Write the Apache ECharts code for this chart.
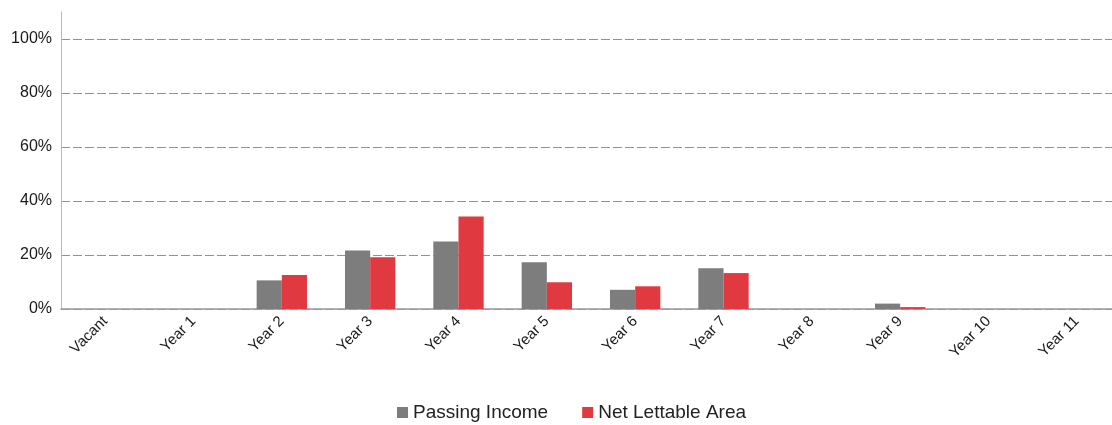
<!DOCTYPE html>
<html>
<head>
<meta charset="utf-8">
<title>Lease Expiry Profile</title>
<script src="https://cdn.jsdelivr.net/npm/echarts@6/dist/echarts.min.js"></script>
<style>
  html, body { margin: 0; padding: 0; background: #ffffff; }
  #chart { width: 1112px; height: 425px; }
</style>
</head>
<body>
<div id="chart"></div>
<script>
// Expiry buckets
const categories = ['Vacant', 'Year 1', 'Year 2', 'Year 3', 'Year 4', 'Year 5',
                    'Year 6', 'Year 7', 'Year 8', 'Year 9', 'Year 10', 'Year 11'];

// Share of total (%) expiring in each bucket
const passingIncome    = [0, 0, 10.6, 21.7, 25.0, 17.3, 7.1, 15.1, 0, 2.0, 0, 0];
const netLettableArea  = [0, 0, 12.6, 19.2, 34.3, 9.9, 8.4, 13.3, 0, 0.7, 0, 0];

// Value-axis tick labels
const yTicks = [0, 20, 40, 60, 80, 100];

const seriesNames = ['Passing Income', 'Net Lettable Area'];
const colors = ['#7d7d7d', '#e0393f'];

const chart = echarts.init(document.getElementById('chart'), null, { renderer: 'canvas' });

chart.setOption({
  animation: false,
  color: colors,
  grid: {
    left: 61, top: 12, width: 1060, bottom: 116,
    containLabel: false,
    outerBoundsMode: 'none'
  },
  legend: {
    data: seriesNames,
    left: 392,
    top: 398,
    icon: 'rect',
    itemWidth: 11,
    itemHeight: 11,
    itemGap: 34,
    textStyle: { fontFamily: 'Liberation Sans, Arial, sans-serif', fontSize: 19, color: '#222' }
  },
  xAxis: {
    type: 'category',
    data: categories,
    axisLine: { show: true, lineStyle: { color: '#9a9a9a', width: 1.5 } },
    axisTick: { show: false },
    axisLabel: {
      rotate: 45,
      margin: 10,
      interval: 0,
      fontFamily: 'Liberation Sans, Arial, sans-serif',
      fontSize: 15,
      color: '#1a1a1a'
    }
  },
  yAxis: {
    type: 'value',
    min: 0,
    max: 110,
    interval: 20,
    axisLine: { show: true, lineStyle: { color: '#b8b8b8', width: 1 } },
    axisTick: { show: false },
    axisLabel: {
      margin: 9,
      fontFamily: 'Liberation Sans, Arial, sans-serif',
      fontSize: 16,
      color: '#1a1a1a',
      formatter: v => (yTicks.indexOf(v) >= 0 ? v + '%' : '')
    },
    splitLine: {
      show: true,
      lineStyle: {
        // last entry hides the line at the axis top
        color: ['#9a9a9a', '#8a949a', '#8a949a', '#8a949a', '#8a949a', '#8a949a', 'rgba(0,0,0,0)'],
        type: [9, 3],
        width: 1
      }
    }
  },
  series: [
    {
      name: seriesNames[0],
      type: 'bar',
      data: passingIncome,
      barGap: '0%',
      barCategoryGap: '43%'
    },
    {
      name: seriesNames[1],
      type: 'bar',
      data: netLettableArea,
      barGap: '0%',
      barCategoryGap: '43%'
    }
  ]
});
</script>
</body>
</html>
